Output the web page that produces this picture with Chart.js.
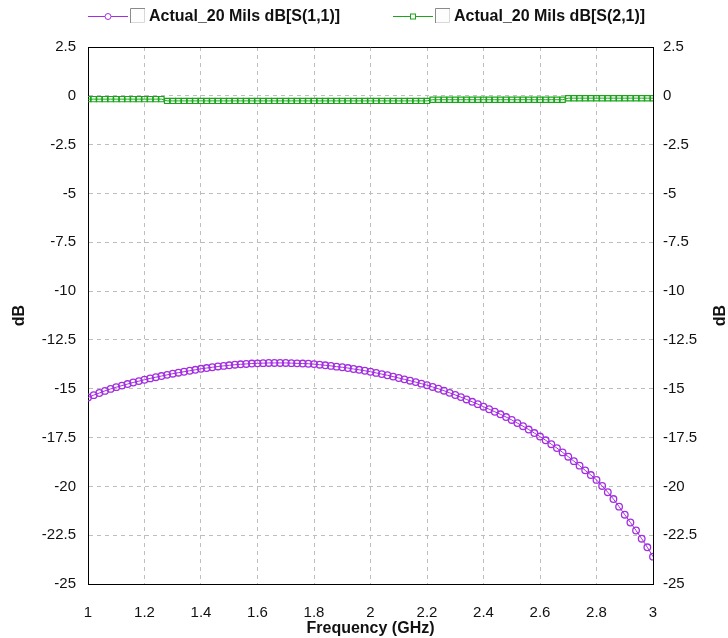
<!DOCTYPE html>
<html>
<head>
<meta charset="utf-8">
<script src="https://cdn.jsdelivr.net/npm/chart.js@4.4.1/dist/chart.umd.min.js"></script>
<style>
html,body{margin:0;padding:0;background:#fff;}
#wrap{width:728px;height:638px;position:relative;}
</style>
</head>
<body>
<div id="wrap"><canvas id="c" width="728" height="638"></canvas></div>
<script>
// Frequency points (GHz), 1.00 .. 3.00 step 0.02
const freqStart = 1.0, freqStep = 0.02, freqCount = 101;
const freqs = [];
for (let i = 0; i < freqCount; i++) freqs.push(+(freqStart + i * freqStep).toFixed(2));

const seriesNames = ['Actual_20 Mils dB[S(1,1)]', 'Actual_20 Mils dB[S(2,1)]'];

const s11 = [
-15.45,-15.33,-15.22,-15.11,-15.01,-14.92,-14.84,-14.76,-14.68,-14.61,
-14.54,-14.47,-14.41,-14.35,-14.29,-14.23,-14.18,-14.13,-14.08,-14.03,
-13.98,-13.94,-13.90,-13.86,-13.83,-13.80,-13.77,-13.75,-13.73,-13.71,
-13.70,-13.69,-13.68,-13.68,-13.68,-13.68,-13.69,-13.70,-13.71,-13.72,
-13.74,-13.77,-13.80,-13.83,-13.87,-13.90,-13.94,-13.99,-14.03,-14.08,
-14.13,-14.19,-14.25,-14.31,-14.38,-14.45,-14.52,-14.59,-14.66,-14.74,
-14.82,-14.91,-15.00,-15.10,-15.21,-15.32,-15.43,-15.55,-15.67,-15.79,
-15.92,-16.05,-16.18,-16.31,-16.45,-16.60,-16.76,-16.92,-17.09,-17.27,
-17.45,-17.64,-17.84,-18.04,-18.26,-18.48,-18.71,-18.94,-19.18,-19.42,
-19.67,-19.98,-20.30,-20.65,-21.04,-21.45,-21.85,-22.26,-22.68,-23.12,
-23.60
];

const s21 = [
-0.17,-0.17,-0.17,-0.17,-0.17,-0.17,-0.17,-0.17,-0.17,-0.17,
-0.17,-0.17,-0.17,-0.17,-0.26,-0.26,-0.26,-0.26,-0.26,-0.26,
-0.26,-0.26,-0.26,-0.26,-0.26,-0.26,-0.26,-0.26,-0.26,-0.26,
-0.26,-0.26,-0.26,-0.26,-0.26,-0.26,-0.26,-0.26,-0.26,-0.26,
-0.26,-0.26,-0.26,-0.26,-0.26,-0.26,-0.26,-0.26,-0.26,-0.26,
-0.26,-0.26,-0.26,-0.26,-0.26,-0.26,-0.26,-0.26,-0.26,-0.26,
-0.26,-0.20,-0.20,-0.20,-0.20,-0.20,-0.20,-0.20,-0.20,-0.20,
-0.20,-0.20,-0.20,-0.20,-0.20,-0.20,-0.20,-0.20,-0.20,-0.20,
-0.20,-0.20,-0.20,-0.20,-0.20,-0.12,-0.12,-0.12,-0.12,-0.12,
-0.12,-0.12,-0.12,-0.12,-0.12,-0.12,-0.12,-0.12,-0.12,-0.12,
-0.12
];

const xMin = 1, xMax = 3, xStep = 0.2;
const yMin = -25, yMax = 2.5, yStep = 2.5;
const xTitle = 'Frequency (GHz)';
const yTitle = 'dB';

const PURPLE = '#a32ee0';
const GREEN = '#1aa51a';
const FONT = "'Liberation Sans', Arial, sans-serif";

const fmt = v => String(Number(v.toFixed(2)));

const decor = {
  id: 'decor',
  afterDraw(chart) {
    const ctx = chart.ctx, a = chart.chartArea;
    ctx.save();
    // top border
    ctx.strokeStyle = '#000'; ctx.lineWidth = 1;
    ctx.beginPath(); ctx.moveTo(a.left, a.top + 0.5); ctx.lineTo(a.right, a.top + 0.5); ctx.stroke();
    // axis titles
    ctx.fillStyle = '#111';
    ctx.font = "bold 16px " + FONT;
    ctx.textAlign = 'center'; ctx.textBaseline = 'middle';
    ctx.fillText(xTitle, (a.left + a.right) / 2, 629);
    [20, 721].forEach(x => {
      ctx.save(); ctx.translate(x, (a.top + a.bottom) / 2); ctx.rotate(-Math.PI / 2);
      ctx.fillText(yTitle, 0, 0); ctx.restore();
    });
    // legend
    const items = [
      {x: 88, color: PURPLE, style: 'circle', text: seriesNames[0]},
      {x: 393, color: GREEN, style: 'rect', text: seriesNames[1]}
    ];
    const ly = 16;
    items.forEach(it => {
      ctx.strokeStyle = it.color; ctx.lineWidth = 1;
      ctx.beginPath(); ctx.moveTo(it.x, ly + 0.5); ctx.lineTo(it.x + 40, ly + 0.5); ctx.stroke();
      ctx.fillStyle = '#fff';
      if (it.style === 'circle') {
        ctx.beginPath(); ctx.arc(it.x + 20, ly + 0.5, 3, 0, Math.PI * 2); ctx.fill(); ctx.stroke();
      } else {
        ctx.fillRect(it.x + 17.5, ly - 2, 5, 5); ctx.strokeRect(it.x + 17.5, ly - 2, 5, 5);
      }
      // checkbox
      const bx = it.x + 42, by = 8, bs = 15;
      ctx.fillStyle = '#fdfdfd'; ctx.fillRect(bx, by, bs, bs);
      ctx.strokeStyle = '#8a8a8a';
      ctx.beginPath(); ctx.moveTo(bx + 0.5, by + bs); ctx.lineTo(bx + 0.5, by + 0.5); ctx.lineTo(bx + bs, by + 0.5); ctx.stroke();
      ctx.strokeStyle = '#d8d8d8';
      ctx.beginPath(); ctx.moveTo(bx + bs - 0.5, by + 1); ctx.lineTo(bx + bs - 0.5, by + bs - 0.5); ctx.lineTo(bx + 1, by + bs - 0.5); ctx.stroke();
      ctx.fillStyle = '#111';
      ctx.font = "bold 16px " + FONT;
      ctx.textAlign = 'left'; ctx.textBaseline = 'middle';
      ctx.fillText(it.text, it.x + 61, ly + 1);
    });
    ctx.restore();
  }
};

const tickFont = {family: FONT, size: 15};

new Chart(document.getElementById('c'), {
  type: 'line',
  data: {
    datasets: [
      {
        label: seriesNames[0],
        data: freqs.map((f, i) => ({x: f, y: s11[i]})),
        borderColor: PURPLE, borderWidth: 1,
        pointStyle: 'circle', pointRadius: 3.3, pointBorderWidth: 1.3,
        pointBorderColor: PURPLE, pointBackgroundColor: 'rgba(255,255,255,0)',
        tension: 0, yAxisID: 'y'
      },
      {
        label: seriesNames[1],
        data: freqs.map((f, i) => ({x: f, y: s21[i]})),
        borderColor: GREEN, borderWidth: 1,
        pointStyle: 'rect', pointRadius: 3.7, pointBorderWidth: 1.2,
        pointBorderColor: GREEN, pointBackgroundColor: 'rgba(255,255,255,0)',
        tension: 0, yAxisID: 'y'
      }
    ]
  },
  options: {
    responsive: false, animation: false,
    layout: {padding: {top: 47, left: 0, right: 0, bottom: 0}},
    plugins: {legend: {display: false}, tooltip: {enabled: false}},
    scales: {
      x: {
        type: 'linear', min: xMin, max: xMax,
        afterFit: s => { s.height = 54; },
        ticks: {stepSize: xStep, color: '#111', font: tickFont, padding: 20, callback: v => fmt(v), maxRotation: 0},
        grid: {color: '#bdbdbd', drawTicks: false, lineWidth: 1},
        border: {display: true, color: '#000', dash: [4, 4]}
      },
      y: {
        position: 'left', min: yMin, max: yMax,
        afterFit: s => { s.width = 88; },
        ticks: {stepSize: yStep, color: '#111', font: tickFont, padding: 12, callback: v => fmt(v)},
        grid: {color: '#bdbdbd', drawTicks: false, lineWidth: 1},
        border: {display: true, color: '#000', dash: [4, 4]}
      },
      y2: {
        position: 'right', min: yMin, max: yMax,
        afterFit: s => { s.width = 75; },
        ticks: {stepSize: yStep, color: '#111', font: tickFont, padding: 10, callback: v => fmt(v)},
        grid: {display: false, drawTicks: false},
        border: {display: true, color: '#000'}
      }
    }
  },
  plugins: [decor]
});
</script>
</body>
</html>
